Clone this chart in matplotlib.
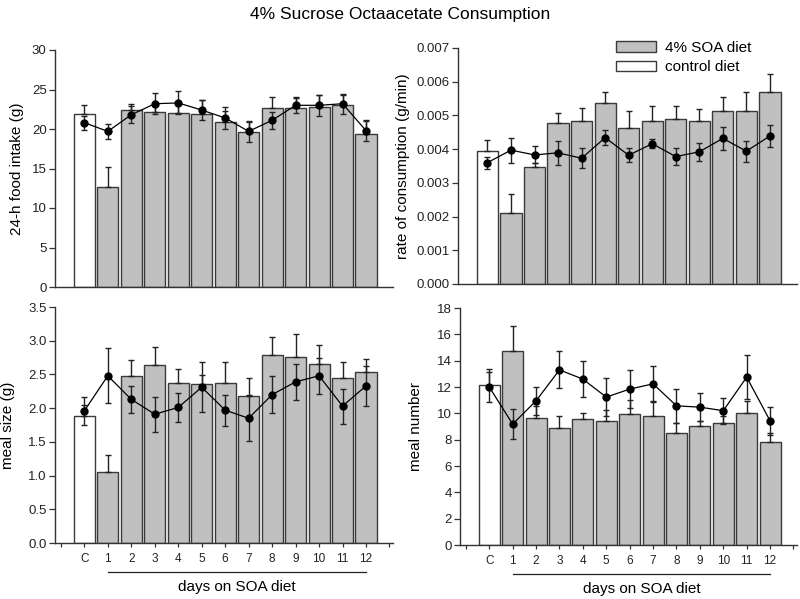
import numpy as np
import matplotlib
matplotlib.use("Agg")
import matplotlib.pyplot as plt
from matplotlib.patches import Patch

plt.rcParams['font.family'] = ['Liberation Sans', 'DejaVu Sans']

day_labels = ['C', '1', '2', '3', '4', '5', '6', '7', '8', '9', '10', '11', '12']

# 24-h food intake (g)
intake_bar = [21.9, 12.7, 22.4, 22.2, 22.0, 21.9, 20.9, 19.6, 22.7, 22.6, 22.8, 23.1, 19.4]
intake_bar_err = [1.1, 2.5, 0.8, 1.0, 1.2, 1.8, 1.4, 1.3, 1.4, 1.3, 1.5, 1.2, 1.6]
intake_line = [20.8, 19.7, 21.8, 23.2, 23.3, 22.4, 21.4, 19.7, 21.1, 23.0, 23.0, 23.2, 19.8]
intake_line_err = [0.9, 0.95, 1.05, 1.3, 1.45, 1.3, 1.35, 1.35, 1.1, 1.0, 1.35, 1.25, 1.35]

# rate of consumption (g/min)
rate_bar = [0.00394, 0.00212, 0.00346, 0.00478, 0.00483, 0.00537, 0.00463, 0.00483, 0.00488, 0.00483, 0.00513, 0.00513, 0.00570]
rate_bar_err = [0.00032, 0.00056, 0.00012, 0.00030, 0.00038, 0.00033, 0.00050, 0.00046, 0.00041, 0.00037, 0.00041, 0.00056, 0.00054]
rate_line = [0.00360, 0.00397, 0.00383, 0.00389, 0.00373, 0.00434, 0.00382, 0.00416, 0.00378, 0.00392, 0.00432, 0.00394, 0.00439]
rate_line_err = [0.00018, 0.00037, 0.00025, 0.00035, 0.00030, 0.00022, 0.00020, 0.00014, 0.00026, 0.00027, 0.00034, 0.00031, 0.00034]

# meal size (g)
size_bar = [1.89, 1.06, 2.48, 2.64, 2.38, 2.36, 2.37, 2.18, 2.79, 2.76, 2.66, 2.44, 2.53]
size_bar_err = [0.16, 0.24, 0.24, 0.26, 0.20, 0.13, 0.31, 0.27, 0.27, 0.34, 0.28, 0.25, 0.20]
size_line = [1.96, 2.48, 2.13, 1.91, 2.01, 2.31, 1.97, 1.85, 2.20, 2.39, 2.48, 2.03, 2.33]
size_line_err = [0.21, 0.41, 0.20, 0.26, 0.22, 0.37, 0.23, 0.34, 0.27, 0.27, 0.27, 0.26, 0.30]

# meal number
number_bar = [12.17, 14.7, 9.68, 8.92, 9.56, 9.43, 9.94, 9.81, 8.54, 9.05, 9.30, 10.0, 7.86]
number_bar_err = [1.19, 1.95, 0.89, 0.84, 0.50, 0.84, 1.09, 1.09, 0.76, 0.35, 0.50, 0.90, 0.63]
number_line = [12.0, 9.18, 10.95, 13.3, 12.6, 11.23, 11.84, 12.24, 10.57, 10.47, 10.2, 12.75, 9.43]
number_line_err = [1.17, 1.12, 1.04, 1.4, 1.35, 1.42, 1.44, 1.39, 1.27, 1.04, 1.0, 1.65, 1.04]

BAR_GRAY = '#c0c0c0'
EDGE = '#3a3a3a'
TXT = '#222222'

fig = plt.figure(figsize=(8.0, 5.99), dpi=100)
W, H = 800, 599

def fig_axes(x0, x1, ytop, ybot):
    return fig.add_axes([x0 / W, 1 - ybot / H, (x1 - x0) / W, (ybot - ytop) / H])

ax_tl = fig_axes(55, 393, 50, 287)
ax_tr = fig_axes(458, 797, 48, 284)
ax_bl = fig_axes(55, 393, 307, 543)
ax_br = fig_axes(460, 797, 308, 545)

pos = np.arange(len(day_labels))

def panel(ax, bars, bar_err, line, line_err, ylim, yticks, yfmt, ylabel, label_x, bottom):
    colors = ['white'] + [BAR_GRAY] * (len(bars) - 1)
    ax.bar(pos, bars, width=0.9, color=colors, edgecolor=EDGE, linewidth=1.0, zorder=2)
    ax.errorbar(pos, bars, yerr=[np.zeros(len(bars)), bar_err], fmt='none',
                ecolor='#222222', elinewidth=1.0, capsize=2.2, capthick=1.0, zorder=3)
    ax.errorbar(pos, line, yerr=line_err, fmt='-o', color='black', lw=0.9,
                ms=5, ecolor='#222222', elinewidth=1.0, capsize=2.2, capthick=1.0, zorder=4)
    ax.set_xlim(-1.25, 13.15)
    ax.set_ylim(*ylim)
    ax.set_yticks(yticks)
    ax.set_yticklabels([yfmt.format(v) for v in yticks])
    for s in ['top', 'right']:
        ax.spines[s].set_visible(False)
    for s in ['left', 'bottom']:
        ax.spines[s].set_color('#333333')
        ax.spines[s].set_linewidth(1.0)
    ax.tick_params(axis='y', direction='out', length=4, width=0.9, color='#333333',
                   labelsize=9.5, labelcolor=TXT, pad=2)
    ax.set_ylabel(ylabel, fontsize=11, color='black')
    ax.yaxis.set_label_coords(label_x, 0.5)
    if bottom:
        xt = np.arange(-1, len(day_labels) + 1)
        ax.set_xticks(xt)
        ax.set_xticklabels([''] + day_labels + [''])
        ax.tick_params(axis='x', direction='out', length=3, width=0.9, color='#333333',
                       labelsize=8.5, labelcolor=TXT, pad=4)
        ax.plot([pos[1], pos[-1]], [-0.121, -0.121], color='#222222', lw=0.9,
                transform=ax.get_xaxis_transform(), clip_on=False)
        ax.text((pos[1] + pos[-1]) / 2, -0.187, 'days on SOA diet', fontsize=11,
                ha='center', va='center', transform=ax.get_xaxis_transform(), color='black')
    else:
        ax.set_xticks([])

panel(ax_tl, intake_bar, intake_bar_err, intake_line, intake_line_err,
      (0, 30), np.arange(0, 31, 5), '{:.0f}', '24-h food intake (g)', -0.092, False)
panel(ax_tr, rate_bar, rate_bar_err, rate_line, rate_line_err,
      (0, 0.007), np.arange(0, 0.0071, 0.001), '{:.3f}', 'rate of consumption (g/min)', -0.142, False)
panel(ax_bl, size_bar, size_bar_err, size_line, size_line_err,
      (0, 3.5), np.arange(0, 3.51, 0.5), '{:.1f}', 'meal size (g)', -0.118, True)
panel(ax_br, number_bar, number_bar_err, number_line, number_line_err,
      (0, 18), np.arange(0, 19, 2), '{:.0f}', 'meal number', -0.11, True)

handles = [Patch(facecolor=BAR_GRAY, edgecolor=EDGE, linewidth=1.0, label='4% SOA diet'),
           Patch(facecolor='white', edgecolor=EDGE, linewidth=1.0, label='control diet')]
fig.legend(handles=handles, loc='upper left', bbox_to_anchor=(616 / W, 1 - 41 / H),
           frameon=False, fontsize=11, handlelength=2.6, handleheight=0.7,
           handletextpad=0.6, labelspacing=0.35, borderpad=0, borderaxespad=0)

fig.text(0.5, 1 - 14 / H, '4% Sucrose Octaacetate Consumption', fontsize=12.5,
         ha='center', va='center', color='black')

fig.savefig('out.png', dpi=100)
